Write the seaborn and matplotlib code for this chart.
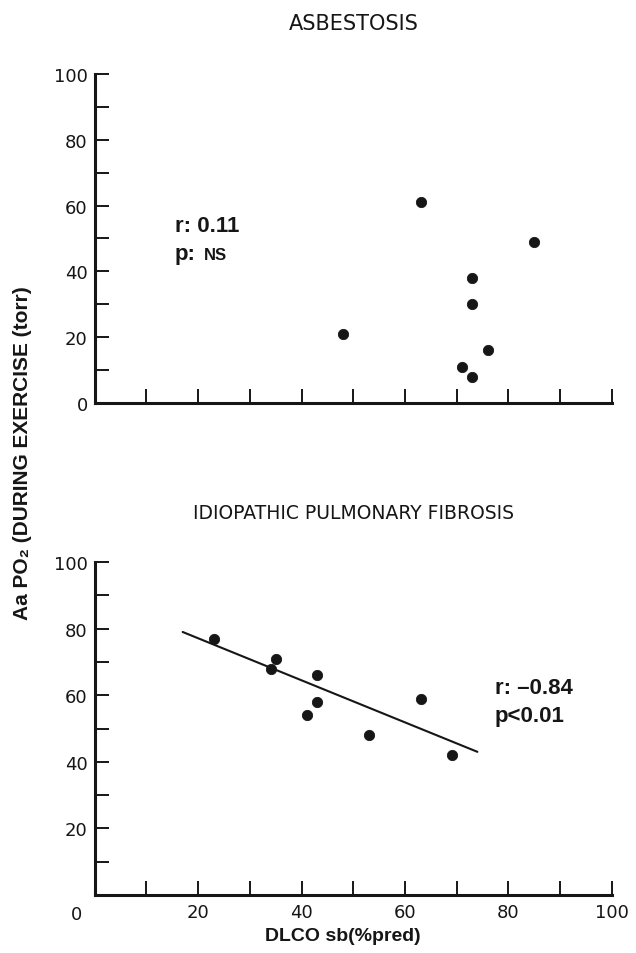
import matplotlib
matplotlib.use("Agg")
import matplotlib.pyplot as plt
import seaborn as sns
import pandas as pd


# -----------------------------
# Data
# -----------------------------
asb_dlco = [63, 85, 73, 73, 48, 76, 71, 73]
asb_aapo2 = [61, 49, 38, 30, 21, 16, 11, 8]

ipf_dlco = [23, 35, 34, 43, 43, 41, 63, 53, 69]
ipf_aapo2 = [77, 71, 68, 66, 58, 54, 59, 48, 42]

# regression line as drawn in the original
ipf_fit_x = [17, 74]
ipf_fit_y = [79, 43]

major_ticks = [0, 20, 40, 60, 80, 100]
minor_ticks = [10, 30, 50, 70, 90]

sns.set_style("white")
plt.rcParams["font.family"] = ["DejaVu Sans"]

BOLD = ["Liberation Sans", "DejaVu Sans"]
INK = "#161616"


# -----------------------------
# Shared axis look
# -----------------------------
def style_axis(ax, bottom_panel):
    ax.set_xlim(0, 100)
    ax.set_ylim(0, 100)
    sns.despine(ax=ax)
    for side in ["left", "bottom"]:
        ax.spines[side].set_linewidth(2.2)
        ax.spines[side].set_color(INK)

    ax.set_xticks(major_ticks)
    ax.set_xticks(minor_ticks, minor=True)
    ax.set_yticks(major_ticks)
    ax.set_yticks(minor_ticks, minor=True)
    ax.tick_params(which="both", direction="in", length=10, width=1.4,
                   bottom=True, left=True, color=INK,
                   labelsize=13, labelcolor=INK, pad=5)

    if bottom_panel:
        labels = [""] + [str(t) for t in major_ticks[1:]]
        ax.set_xticklabels(labels)
        ax.set_yticklabels(labels)
        ax.tick_params(axis="x", pad=6)
        ax.annotate("0", xy=(0, 0), xytext=(-13, -14), textcoords="offset points",
                    ha="center", va="center", fontsize=13, color=INK)
    else:
        ax.tick_params(axis="x", labelbottom=False)
        ax.set_yticklabels([str(t) for t in major_ticks])

    ax.set_xlabel("")
    ax.set_ylabel("")


# -----------------------------
# Scatter panels
# -----------------------------
fig = plt.figure(figsize=(6.36, 9.54), dpi=100)
ax_top = fig.add_axes([0.149, 0.5765, 0.813, 0.345])
ax_bot = fig.add_axes([0.149, 0.0608, 0.813, 0.349])

asb = pd.DataFrame({"dlco": asb_dlco, "aapo2": asb_aapo2})
ipf = pd.DataFrame({"dlco": ipf_dlco, "aapo2": ipf_aapo2})
fit = pd.DataFrame({"dlco": ipf_fit_x, "aapo2": ipf_fit_y})

sns.scatterplot(data=asb, x="dlco", y="aapo2", ax=ax_top, s=55,
                color=INK, edgecolor=INK, clip_on=False, zorder=3)
style_axis(ax_top, bottom_panel=False)
ax_top.set_title("ASBESTOSIS", fontsize=15, color=INK, pad=32)
ax_top.text(15.5, 52.3, "r: 0.11", fontsize=16, fontweight="bold",
            family=BOLD, color=INK, va="baseline")
ax_top.text(15.5, 43.8, "p:", fontsize=16, fontweight="bold",
            family=BOLD, color=INK, va="baseline")
ax_top.annotate("NS", xy=(15.5, 43.8), xytext=(21, 0), textcoords="offset points",
                fontsize=12, fontweight="bold", family=BOLD, color=INK,
                va="baseline")

sns.lineplot(data=fit, x="dlco", y="aapo2", ax=ax_bot, color=INK, linewidth=1.5)
sns.scatterplot(data=ipf, x="dlco", y="aapo2", ax=ax_bot, s=55,
                color=INK, edgecolor=INK, clip_on=False, zorder=3)
style_axis(ax_bot, bottom_panel=True)
ax_bot.set_title("IDIOPATHIC PULMONARY FIBROSIS", fontsize=13.5, color=INK, pad=32)
ax_bot.text(77.4, 60.8, "r: \u20130.84", fontsize=16, fontweight="bold",
            family=BOLD, color=INK, va="baseline")
ax_bot.text(77.4, 52.3, "p<0.01", fontsize=16, fontweight="bold",
            family=BOLD, color=INK, va="baseline")
ax_bot.set_xlabel("DLCO sb(%pred)", fontsize=14, fontweight="bold",
                  family=BOLD, color=INK, labelpad=4, x=0.48)

fig.text(0.035, 0.525, "Aa PO\u2082 (DURING EXERCISE (torr)", rotation=90,
         ha="center", va="center", fontsize=15, fontweight="bold",
         family=BOLD, color=INK)

fig.savefig("out.png", dpi=100, facecolor="white")
